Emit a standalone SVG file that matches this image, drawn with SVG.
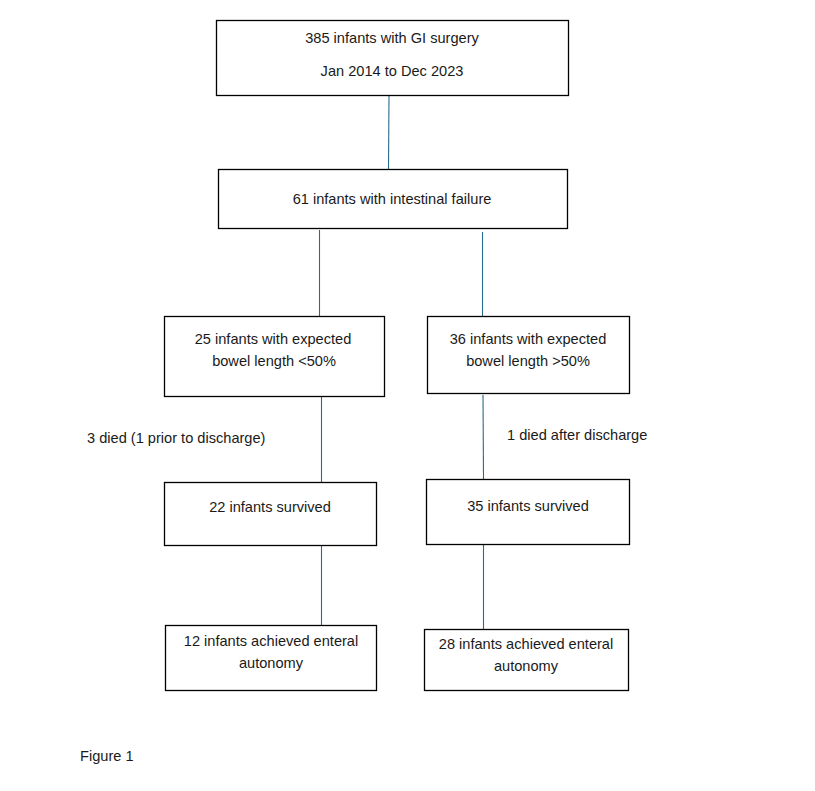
<svg xmlns="http://www.w3.org/2000/svg" width="815" height="791" viewBox="0 0 815 791">
<style>
.box{fill:#fff;stroke:#000;stroke-width:1.3}
.t{font-family:"Liberation Sans",Arial,sans-serif;font-size:14.6px;fill:#1a1a1a;text-anchor:middle}
.l{font-family:"Liberation Sans",Arial,sans-serif;font-size:14.6px;fill:#1a1a1a}
.c{stroke:#2a6a8a;stroke-width:1.1;fill:none}
</style>
<rect width="815" height="791" fill="#fff"/>
<g id="connectors">
<line class="c" x1="389" y1="95" x2="388.5" y2="169"/>
<line class="c" x1="319.5" y1="230" x2="319.5" y2="316"/>
<line class="c" x1="482.5" y1="232" x2="482.5" y2="316"/>
<line class="c" x1="321.5" y1="397" x2="321.5" y2="482"/>
<line class="c" x1="483" y1="395" x2="483.5" y2="479"/>
<line class="c" x1="321.5" y1="546" x2="321.5" y2="625"/>
<line class="c" x1="483.5" y1="545" x2="483.5" y2="629"/>
</g>
<g id="n1"><rect class="box" x="216.5" y="20.5" width="352" height="75"/>
<text class="t" x="392" y="43">385 infants with GI surgery</text>
<text class="t" x="392" y="76">Jan 2014 to Dec 2023</text></g>
<g id="n2"><rect class="box" x="218.5" y="169.5" width="349" height="59"/>
<text class="t" x="392" y="204">61 infants with intestinal failure</text></g>
<g id="n3"><rect class="box" x="164.5" y="316.5" width="220" height="80"/>
<text class="t" x="273" y="344">25 infants with expected</text>
<text class="t" x="274" y="366">bowel length &lt;50%</text></g>
<g id="n4"><rect class="box" x="427.5" y="316.5" width="202" height="77"/>
<text class="t" x="528" y="344">36 infants with expected</text>
<text class="t" x="528" y="366">bowel length &gt;50%</text></g>
<g id="n5"><rect class="box" x="164.5" y="482.5" width="212" height="63"/>
<text class="t" x="270" y="512">22 infants survived</text></g>
<g id="n6"><rect class="box" x="426.5" y="479.5" width="203" height="65"/>
<text class="t" x="528" y="511">35 infants survived</text></g>
<g id="n7"><rect class="box" x="165.5" y="625.5" width="211" height="65"/>
<text class="t" x="271" y="646">12 infants achieved enteral</text>
<text class="t" x="271" y="668">autonomy</text></g>
<g id="n8"><rect class="box" x="424.5" y="629.5" width="204" height="61"/>
<text class="t" x="526" y="649">28 infants achieved enteral</text>
<text class="t" x="526" y="671">autonomy</text></g>
<g id="labels">
<text class="l" x="87" y="443">3 died (1 prior to discharge)</text>
<text class="l" x="507" y="440">1 died after discharge</text>
<text class="l" x="80" y="761">Figure 1</text>
</g>
</svg>
